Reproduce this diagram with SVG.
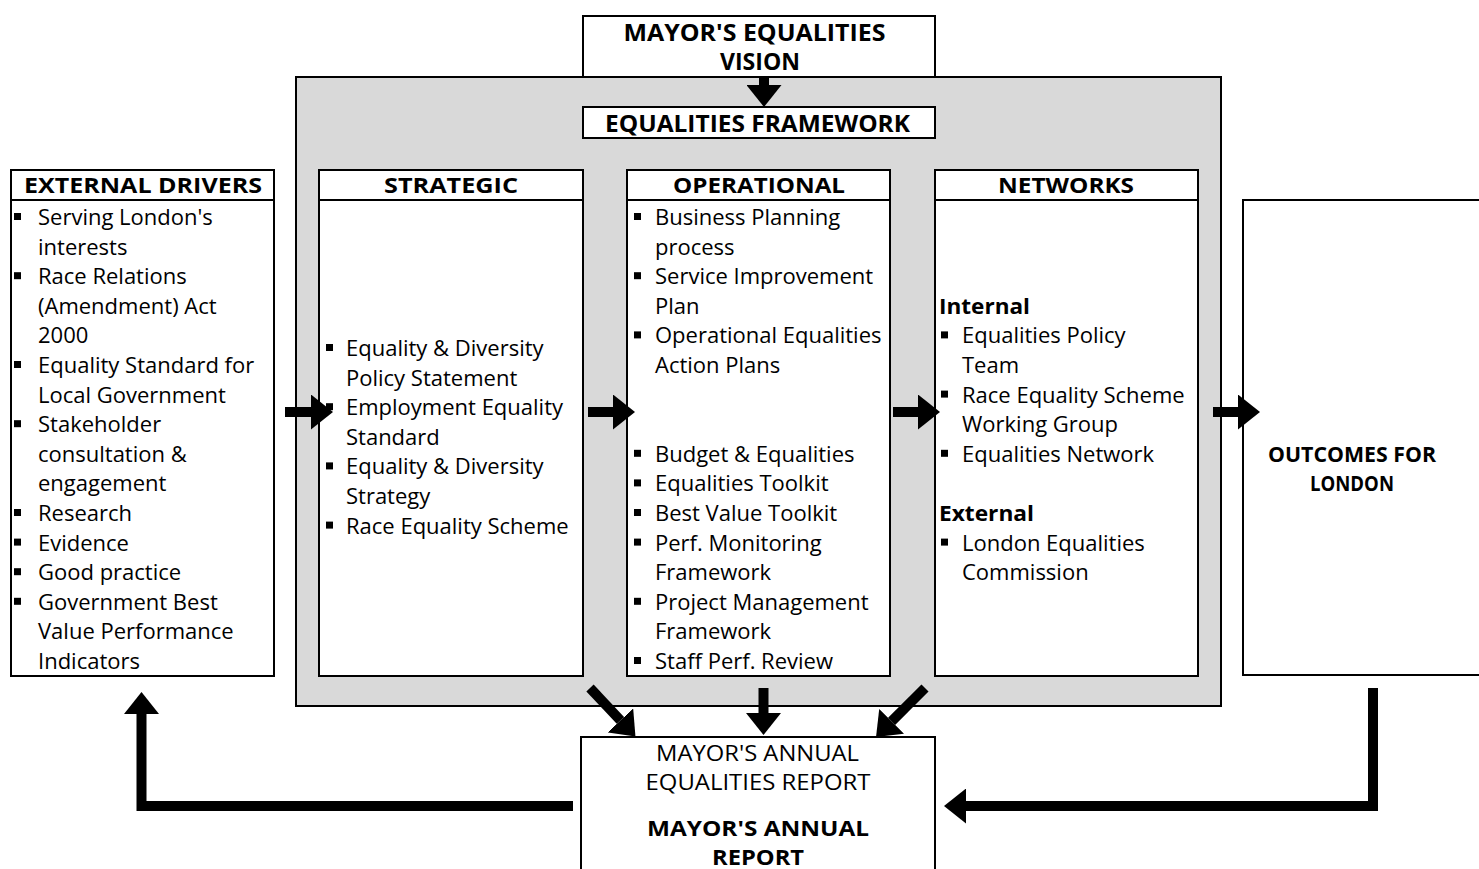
<svg xmlns="http://www.w3.org/2000/svg" width="1479" height="869" viewBox="0 0 1479 869">
  <style>
    .box { fill: #ffffff; stroke: #000000; stroke-width: 2; }
    .panel { fill: #d9d9d9; stroke: #000000; stroke-width: 2; }
    .t { font-family: "Open Sans", "Noto Sans", sans-serif; font-size: 22px; fill: #000000; }
    .b { font-weight: bold; }
    .big { font-size: 23px; }
    .c { text-anchor: middle; }
    .bul { fill: #000000; }
    .shaft { fill: none; stroke: #000000; stroke-width: 10; stroke-linejoin: miter; }
  </style>
  <defs>
    <marker id="head" markerUnits="userSpaceOnUse" markerWidth="22" markerHeight="35" viewBox="0 -17.5 22 35" refX="0" refY="0" orient="auto">
      <path d="M0,-17.5 L22,0 L0,17.5 Z" fill="#000000"/>
    </marker>
    <rect id="sq" width="7" height="7" class="bul"/>
  </defs>

  <!-- grey framework panel -->
  <rect id="framework-panel" class="panel" x="296" y="77" width="925" height="629"/>

  <!-- vision -->
  <g id="vision">
    <rect class="box" x="583" y="16" width="352" height="61"/>
    <text class="t b big c">
      <tspan x="757.5" y="41" textLength="262" lengthAdjust="spacingAndGlyphs">MAYOR'S EQUALITIES</tspan>
      <tspan x="760" y="70" textLength="80" lengthAdjust="spacingAndGlyphs">VISION</tspan>
    </text>
  </g>

  <!-- equalities framework -->
  <g id="framework">
    <rect class="box" x="583" y="107" width="352" height="31"/>
    <text class="t b big c" x="757.5" y="131.5" textLength="305" lengthAdjust="spacingAndGlyphs">EQUALITIES FRAMEWORK</text>
  </g>

  <!-- external drivers -->
  <g id="external-drivers">
    <rect class="box" x="11" y="170" width="263" height="30"/>
    <rect class="box" x="11" y="200" width="263" height="476"/>
    <text class="t b c" x="143" y="193" textLength="238" lengthAdjust="spacingAndGlyphs">EXTERNAL DRIVERS</text>
    <use href="#sq" x="14" y="213"/>
    <use href="#sq" x="14" y="272.2"/>
    <use href="#sq" x="14" y="361"/>
    <use href="#sq" x="14" y="420.2"/>
    <use href="#sq" x="14" y="509"/>
    <use href="#sq" x="14" y="538.6"/>
    <use href="#sq" x="14" y="568.2"/>
    <use href="#sq" x="14" y="597.8"/>
    <text class="t">
      <tspan x="38" y="225">Serving London's</tspan>
      <tspan x="38" y="254.6">interests</tspan>
      <tspan x="38" y="284.2">Race Relations</tspan>
      <tspan x="38" y="313.8">(Amendment) Act</tspan>
      <tspan x="38" y="343.4">2000</tspan>
      <tspan x="38" y="373">Equality Standard for</tspan>
      <tspan x="38" y="402.6">Local Government</tspan>
      <tspan x="38" y="432.2">Stakeholder</tspan>
      <tspan x="38" y="461.8">consultation &amp;</tspan>
      <tspan x="38" y="491.4">engagement</tspan>
      <tspan x="38" y="521">Research</tspan>
      <tspan x="38" y="550.6">Evidence</tspan>
      <tspan x="38" y="580.2">Good practice</tspan>
      <tspan x="38" y="609.8">Government Best</tspan>
      <tspan x="38" y="639.4">Value Performance</tspan>
      <tspan x="38" y="669">Indicators</tspan>
    </text>
  </g>

  <!-- strategic -->
  <g id="strategic">
    <rect class="box" x="319" y="170" width="264" height="30"/>
    <rect class="box" x="319" y="200" width="264" height="476"/>
    <text class="t b c" x="451" y="193" textLength="134" lengthAdjust="spacingAndGlyphs">STRATEGIC</text>
    <use href="#sq" x="326" y="344"/>
    <use href="#sq" x="326" y="403.2"/>
    <use href="#sq" x="326" y="462.4"/>
    <use href="#sq" x="326" y="521.6"/>
    <text class="t">
      <tspan x="346" y="356">Equality &amp; Diversity</tspan>
      <tspan x="346" y="385.6">Policy Statement</tspan>
      <tspan x="346" y="415.2">Employment Equality</tspan>
      <tspan x="346" y="444.8">Standard</tspan>
      <tspan x="346" y="474.4">Equality &amp; Diversity</tspan>
      <tspan x="346" y="504">Strategy</tspan>
      <tspan x="346" y="533.6">Race Equality Scheme</tspan>
    </text>
  </g>

  <!-- operational -->
  <g id="operational">
    <rect class="box" x="627" y="170" width="263" height="30"/>
    <rect class="box" x="627" y="200" width="263" height="476"/>
    <text class="t b c" x="759" y="193" textLength="172" lengthAdjust="spacingAndGlyphs">OPERATIONAL</text>
    <use href="#sq" x="634" y="213"/>
    <use href="#sq" x="634" y="272.2"/>
    <use href="#sq" x="634" y="331.4"/>
    <use href="#sq" x="634" y="449.8"/>
    <use href="#sq" x="634" y="479.4"/>
    <use href="#sq" x="634" y="509"/>
    <use href="#sq" x="634" y="538.6"/>
    <use href="#sq" x="634" y="597.8"/>
    <use href="#sq" x="634" y="657"/>
    <text class="t">
      <tspan x="655" y="225">Business Planning</tspan>
      <tspan x="655" y="254.6">process</tspan>
      <tspan x="655" y="284.2">Service Improvement</tspan>
      <tspan x="655" y="313.8">Plan</tspan>
      <tspan x="655" y="343.4">Operational Equalities</tspan>
      <tspan x="655" y="373">Action Plans</tspan>
      <tspan x="655" y="461.8">Budget &amp; Equalities</tspan>
      <tspan x="655" y="491.4">Equalities Toolkit</tspan>
      <tspan x="655" y="521">Best Value Toolkit</tspan>
      <tspan x="655" y="550.6">Perf. Monitoring</tspan>
      <tspan x="655" y="580.2">Framework</tspan>
      <tspan x="655" y="609.8">Project Management</tspan>
      <tspan x="655" y="639.4">Framework</tspan>
      <tspan x="655" y="669">Staff Perf. Review</tspan>
    </text>
  </g>

  <!-- networks -->
  <g id="networks">
    <rect class="box" x="935" y="170" width="263" height="30"/>
    <rect class="box" x="935" y="200" width="263" height="476"/>
    <text class="t b c" x="1066" y="193" textLength="136" lengthAdjust="spacingAndGlyphs">NETWORKS</text>
    <text class="t b" x="939" y="313.8" textLength="91" lengthAdjust="spacingAndGlyphs">Internal</text>
    <text class="t b" x="939" y="521" textLength="95" lengthAdjust="spacingAndGlyphs">External</text>
    <use href="#sq" x="941" y="331.4"/>
    <use href="#sq" x="941" y="390.6"/>
    <use href="#sq" x="941" y="449.8"/>
    <use href="#sq" x="941" y="538.6"/>
    <text class="t">
      <tspan x="962" y="343.4">Equalities Policy</tspan>
      <tspan x="962" y="373">Team</tspan>
      <tspan x="962" y="402.6">Race Equality Scheme</tspan>
      <tspan x="962" y="432.2">Working Group</tspan>
      <tspan x="962" y="461.8">Equalities Network</tspan>
      <tspan x="962" y="550.6">London Equalities</tspan>
      <tspan x="962" y="580.2">Commission</tspan>
    </text>
  </g>

  <!-- outcomes -->
  <g id="outcomes">
    <rect class="box" x="1243" y="200" width="250" height="475"/>
    <text class="t b c" x="1352" y="461.8" textLength="168" lengthAdjust="spacingAndGlyphs">OUTCOMES FOR</text>
    <text class="t b c" x="1352" y="491.4" textLength="84" lengthAdjust="spacingAndGlyphs">LONDON</text>
  </g>

  <!-- annual report -->
  <g id="annual-report">
    <rect class="box" x="581" y="737" width="354" height="150"/>
    <text class="t c" x="757.5" y="760.5" textLength="203" lengthAdjust="spacingAndGlyphs">MAYOR'S ANNUAL</text>
    <text class="t c" x="758" y="790" textLength="225" lengthAdjust="spacingAndGlyphs">EQUALITIES REPORT</text>
    <text class="t b c" x="758" y="836" textLength="222" lengthAdjust="spacingAndGlyphs">MAYOR'S ANNUAL</text>
    <text class="t b c" x="758" y="865" textLength="92" lengthAdjust="spacingAndGlyphs">REPORT</text>
  </g>

  <!-- connectors -->
  <g id="connectors">
    <path class="shaft" d="M764,77 V85" marker-end="url(#head)"/>
    <path class="shaft" d="M285,412 H311" marker-end="url(#head)"/>
    <path class="shaft" d="M588,412 H613" marker-end="url(#head)"/>
    <path class="shaft" d="M893,412 H918" marker-end="url(#head)"/>
    <path class="shaft" d="M1213,412 H1238" marker-end="url(#head)"/>
    <path class="shaft" d="M590,688 L620.4,720.4" marker-end="url(#head)"/>
    <path class="shaft" d="M763.5,688 V713" marker-end="url(#head)"/>
    <path class="shaft" d="M925,688 L891.6,721.4" marker-end="url(#head)"/>
    <path class="shaft" d="M573,806 H141.5 V714" marker-end="url(#head)"/>
    <path class="shaft" d="M1373,688 V806 H966" marker-end="url(#head)"/>
  </g>
</svg>
